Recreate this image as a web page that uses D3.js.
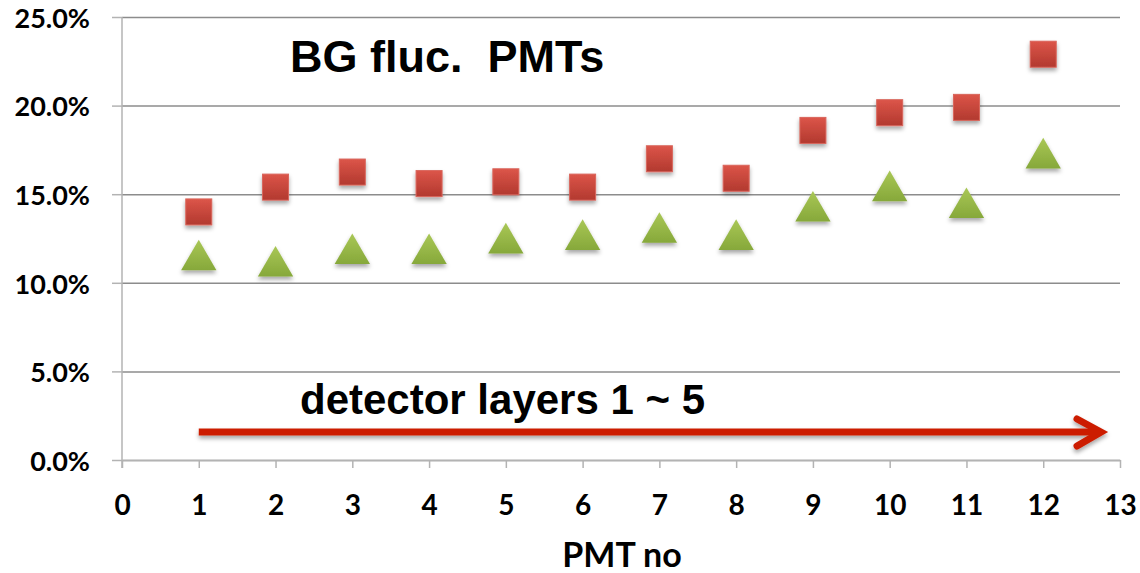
<!DOCTYPE html>
<html>
  <head>
    <script src="https://d3js.org/d3.v7.min.js" charset="utf-8"></script>
    <meta charset="UTF-8">
    <title>BG fluc. PMTs</title>
    <style>
      body { margin: 0; background: #fff; }
      .tick text { font-family: Lato, "Open Sans", sans-serif; font-weight: bold; fill: #000; }
    </style>
  </head>
  <body>
    <svg class="chart"></svg>
    <script type="text/javascript">

      var pmt = [1, 2, 3, 4, 5, 6, 7, 8, 9, 10, 11, 12];
      var squares = [0.140, 0.154, 0.1625, 0.156, 0.157, 0.154, 0.170, 0.159, 0.186, 0.196, 0.199, 0.229];
      var triangles = [0.1145, 0.111, 0.118, 0.118, 0.124, 0.126, 0.130, 0.126, 0.142, 0.1535, 0.144, 0.172];
      var xTicks = d3.range(0, 14);
      var yTicks = [0, 0.05, 0.10, 0.15, 0.20, 0.25];

      var width = 1140,
          height = 573,
          plotLeft = 122,
          plotRight = 1120,
          plotTop = 17,
          plotBottom = 460,
          markerSize = 26;

      var chart = d3.select(".chart")
          .attr("width", width)
          .attr("height", height);

      var defs = chart.append("defs");

      var red = defs.append("linearGradient").attr("id", "redGrad")
          .attr("x1", 0).attr("y1", 0).attr("x2", 0).attr("y2", 1);
      red.append("stop").attr("offset", "0%").attr("stop-color", "#dc5549");
      red.append("stop").attr("offset", "100%").attr("stop-color", "#b2392f");

      var green = defs.append("linearGradient").attr("id", "greenGrad")
          .attr("x1", 0).attr("y1", 0).attr("x2", 0).attr("y2", 1);
      green.append("stop").attr("offset", "0%").attr("stop-color", "#a9c756");
      green.append("stop").attr("offset", "100%").attr("stop-color", "#86a83a");

      var shadow = defs.append("filter").attr("id", "shadow")
          .attr("x", "-30%").attr("y", "-30%").attr("width", "160%").attr("height", "170%");
      shadow.append("feDropShadow")
          .attr("dx", 0).attr("dy", 3).attr("stdDeviation", 2)
          .attr("flood-color", "#000").attr("flood-opacity", 0.35);

      var x = d3.scaleLinear().domain([0, 13]).range([plotLeft, plotRight]);
      var y = d3.scaleLinear().domain([0, 0.25]).range([plotBottom, plotTop]);

      // gridlines
      chart.append("g")
          .attr("transform", "translate(" + plotLeft + ",0)")
          .call(d3.axisLeft(y).tickValues(yTicks).tickSize(-(plotRight - plotLeft)).tickFormat(""))
          .call(function(g) { g.select(".domain").remove(); })
          .selectAll("line").attr("stroke", "#8c8c8c").attr("stroke-width", 1.5);

      // y axis
      var yAxis = chart.append("g")
          .attr("transform", "translate(" + plotLeft + ",0)")
          .call(d3.axisLeft(y).tickValues(yTicks).tickSize(10).tickPadding(22)
                .tickFormat(d3.format(".1%")));
      yAxis.select(".domain").attr("stroke", "#b3b3b3").attr("stroke-width", 1.5)
          .attr("d", "M0," + plotTop + "V" + (plotBottom + 8));
      yAxis.selectAll("line").attr("stroke", "#b3b3b3").attr("stroke-width", 1.5);
      yAxis.selectAll("text").style("font-size", "27px").attr("dy", "0.38em");

      // x axis
      var xAxis = chart.append("g")
          .attr("transform", "translate(0," + plotBottom + ")")
          .call(d3.axisBottom(x).tickValues(xTicks).tickSize(8).tickPadding(27).tickSizeOuter(0));
      xAxis.select(".domain").attr("stroke", "#b3b3b3").attr("stroke-width", 1.5);
      xAxis.selectAll("line").attr("stroke", "#b3b3b3").attr("stroke-width", 1.5);
      xAxis.selectAll("text").style("font-size", "28px");

      chart.append("text")
          .attr("x", (plotLeft + plotRight) / 2 + 1)
          .attr("y", 567)
          .attr("text-anchor", "middle")
          .style("font-family", "Lato, 'Open Sans', sans-serif")
          .style("font-weight", "bold")
          .style("font-size", "34px")
          .text("PMT no");

      // annotations
      chart.append("text")
          .attr("x", 290)
          .attr("y", 72)
          .style("font-family", "'Liberation Sans', Arial, sans-serif")
          .style("font-weight", "bold")
          .style("font-size", "45px")
          .style("white-space", "pre")
          .text("BG fluc.  PMTs");

      chart.append("text")
          .attr("x", 300)
          .attr("y", 414)
          .style("font-family", "'Liberation Sans', Arial, sans-serif")
          .style("font-weight", "bold")
          .style("font-size", "42px")
          .text("detector layers 1 ~ 5");

      var arrow = chart.append("g").attr("filter", "url(#shadow)")
          .attr("stroke", "#cc1f00").attr("stroke-width", 7).attr("fill", "none");
      arrow.append("line")
          .attr("x1", x(1)).attr("y1", 432).attr("x2", 1100).attr("y2", 432);
      arrow.append("path")
          .attr("stroke-linecap", "round").attr("stroke-linejoin", "miter")
          .attr("d", "M1077,419 L1101,432 L1077,446");

      // triangles
      var tri = d3.symbol().type(d3.symbolTriangle).size(markerSize * markerSize * 0.8);
      chart.append("g").selectAll("path")
          .data(pmt)
          .enter().append("path")
          .attr("d", tri)
          .attr("transform", function(d, i) { return "translate(" + x(d) + "," + (y(triangles[i]) + 3) + ")"; })
          .attr("fill", "url(#greenGrad)")
          .attr("filter", "url(#shadow)");

      // squares
      chart.append("g").selectAll("rect")
          .data(pmt)
          .enter().append("rect")
          .attr("x", function(d) { return x(d) - markerSize / 2; })
          .attr("y", function(d, i) { return y(squares[i]) - markerSize / 2; })
          .attr("width", markerSize)
          .attr("height", markerSize)
          .attr("fill", "url(#redGrad)")
          .attr("stroke", "#d9665c")
          .attr("stroke-width", 1)
          .attr("filter", "url(#shadow)");

    </script>
  </body>
</html>
